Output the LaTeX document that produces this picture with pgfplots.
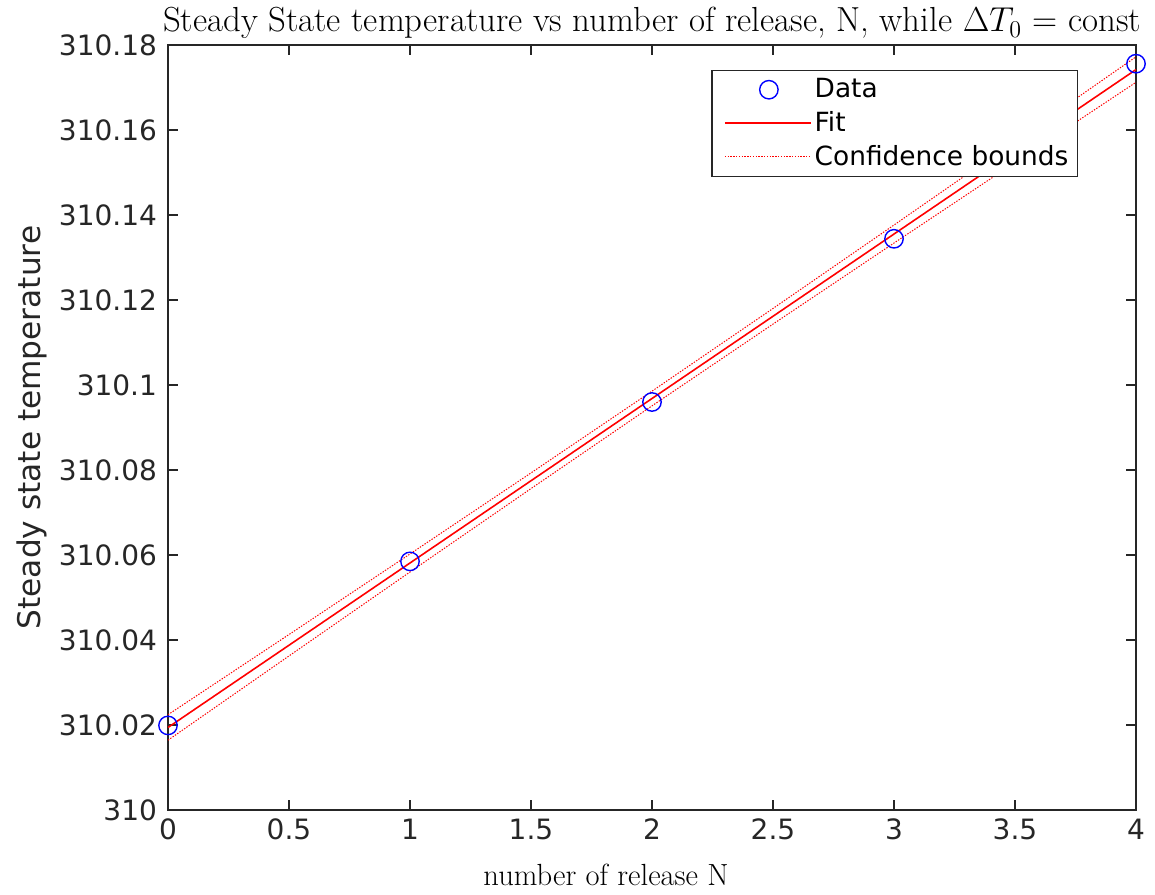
\documentclass[border=0pt]{standalone}
\usepackage{pgfplots}
\pgfplotsset{compat=1.18}
\usepackage{fontspec}
\newfontfamily\dejavu{DejaVu Sans}
\definecolor{axgray}{rgb}{0.15,0.15,0.15}
\pgfplotsset{
  markleg/.style={legend image code/.code={\path (-5pt,0pt); \draw[##1] plot coordinates {(20pt,0pt)};}},
  fitleg/.style={legend image code/.code={\path (-5pt,0pt); \draw[draw=red, line width=0.8pt] (-2pt,0pt) -- (41pt,0pt);}},
  bndleg/.style={legend image code/.code={\path (-5pt,0pt); \draw[draw=red, line width=0.7pt, dash pattern=on 0.7pt off 0.7pt] (-2pt,0pt) -- (41pt,0pt);}},
}
\begin{document}
\begin{tikzpicture}
\begin{axis}[
  scale only axis,
  width=484pt, height=382.5pt,
  xmin=0, xmax=4, ymin=310, ymax=310.18,
  xtick={0,0.5,1,1.5,2,2.5,3,3.5,4},
  xticklabels={0,0.5,1,1.5,2,2.5,3,3.5,4},
  ytick={310,310.02,310.04,310.06,310.08,310.1,310.12,310.14,310.16,310.18},
  yticklabels={310,310.02,310.04,310.06,310.08,310.1,310.12,310.14,310.16,310.18},
  scaled y ticks=false,
  tick align=inside,
  major tick length=5pt,
  axis line style={axgray, line width=0.6pt},
  every tick/.style={axgray, line width=0.6pt},
  tick label style={font=\dejavu\fontsize{14}{16}\selectfont, text=axgray},
  /pgf/number format/assume math mode=true,
  xticklabel style={yshift=-1pt},
  yticklabel style={xshift=-2pt},
  title={Steady State temperature vs number of release, N, while $\Delta T_0$ = const},
  title style={font=\fontsize{17.4}{19}\selectfont, yshift=-6.5pt},
  xlabel={number of release N},
  xlabel style={font=\fontsize{15.3}{17}\selectfont, xshift=-23pt, yshift=-5pt},
  ylabel={Steady state temperature},
  ylabel style={font=\dejavu\fontsize{15.6}{17}\selectfont, text=axgray, yshift=-1pt},
  legend cell align=left,
  legend style={at={(1,1)}, anchor=north east, xshift=-29pt, yshift=-12.5pt,
    draw=axgray, text=black, line width=0.6pt, font=\dejavu\fontsize{13.2}{16}\selectfont,
    inner xsep=3pt, inner ysep=2.5pt, row sep=2.3pt,
    nodes={inner sep=1.5pt}},
  clip=false,
]
\addplot[only marks, mark=o, mark size=4.6pt, blue, line width=0.7pt, markleg]
  coordinates {(0,310.0199) (1,310.0585) (2,310.0960) (3,310.1344) (4,310.1756)};
\addlegendentry{Data}
\addplot[red, line width=0.8pt, no marks, fitleg]
  coordinates {(0,310.01942) (4,310.17422)};
\addlegendentry{Fit}
\addplot[red, line width=0.5pt, no marks, dash pattern=on 0.7pt off 0.7pt, bndleg]
  coordinates {(0,310.02242) (0.5,310.04129) (1,310.06024) (1.5,310.07931) (2,310.09855)
   (2.5,310.11801) (3,310.13764) (3.5,310.15739) (4,310.17722)};
\addlegendentry{Confidence bounds}
\addplot[red, line width=0.5pt, no marks, dash pattern=on 0.7pt off 0.7pt, forget plot]
  coordinates {(0,310.01642) (0.5,310.03625) (1,310.05600) (1.5,310.07563) (2,310.09509)
   (2.5,310.11433) (3,310.13340) (3.5,310.15235) (4,310.17122)};
\end{axis}
\pgfresetboundingbox
\path (current axis.south west) ++(-84pt,-42pt) rectangle ++(577.5pt,447pt);
\end{tikzpicture}
\end{document}
